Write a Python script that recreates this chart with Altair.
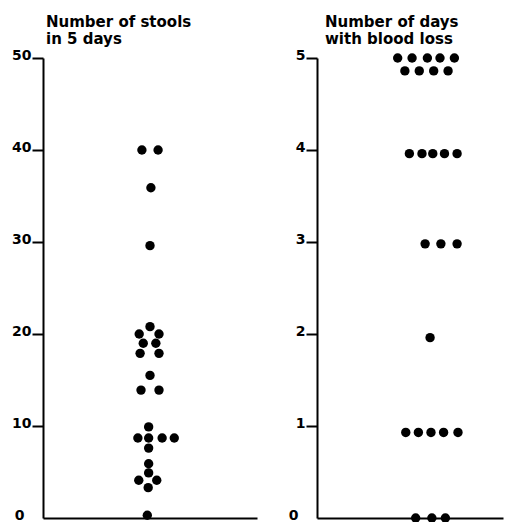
import altair as alt
import pandas as pd

# Left panel: number of stools in 5 days
stool_vals = [40, 40, 35.9, 29.6, 20.8, 20.0, 20.0, 19.0, 19.0, 17.9, 17.9, 15.5,
              13.9, 13.9, 9.9, 8.7, 8.7, 8.7, 8.7, 7.6, 5.9, 4.9, 4.1, 4.1, 3.3, 0.3]
stool_pos = [-0.9, 0.9, 0.1, 0, 0, -1.2, 1.0, -0.75, 0.65, -1.1, 1.0, 0,
             -1.0, 1.0, -0.15, -1.35, -0.15, 1.35, 2.7, -0.15, -0.15, -0.15, -1.25, 0.75, -0.2, -0.3]
stool_ticks = [0, 10, 20, 30, 40, 50]

# Right panel: number of days with blood loss
blood_vals = [5, 5, 5, 5, 5, 4.86, 4.86, 4.86, 4.86, 3.96, 3.96, 3.96, 3.96, 3.96,
              2.98, 2.98, 2.98, 1.96, 0.93, 0.93, 0.93, 0.93, 0.93, 0, 0, 0]
blood_pos = [-3.6, -2.0, -0.3, 1.1, 2.7, -2.8, -1.2, 0.4, 2.0, -2.3, -0.9, 0.3, 1.6, 3.0,
             -0.55, 1.2, 3.0, 0, -2.7, -1.3, 0.1, 1.5, 3.1, -1.6, 0.2, 1.7]
blood_ticks = [0, 1, 2, 3, 4, 5]

titles_left = ["Number of stools", "in 5 days"]
titles_right = ["Number of days", "with blood loss"]

FONT = "DejaVu Sans"


def panel(df, title, ydom, yticks, xdom, width, dx):
    zero_test = "datum.value === 0"
    return alt.Chart(df).mark_circle(size=88, color="black", opacity=1).encode(
        x=alt.X("pos:Q", scale=alt.Scale(domain=xdom, nice=False, zero=False),
                axis=alt.Axis(labels=False, ticks=False, title=None, grid=False,
                              domainColor="black", domainWidth=2)),
        y=alt.Y("value:Q", scale=alt.Scale(domain=ydom, nice=False),
                axis=alt.Axis(values=yticks, title=None, grid=False, format="d",
                              domainColor="black", domainWidth=2,
                              tickColor="black", tickWidth=2, tickSize=11,
                              tickOpacity={"condition": {"test": zero_test, "value": 0}, "value": 1},
                              labelPadding={"condition": {"test": zero_test, "value": 8}, "value": 1},
                              labelFont=FONT, labelFontSize=14, labelFontWeight="bold",
                              labelColor="black", labelBaseline="middle", labelOffset=-3)),
    ).properties(
        width=width, height=460,
        title=alt.TitleParams(title, anchor="start", frame="group", dx=dx, fontSize=15,
                              font=FONT, fontWeight="bold", lineHeight=17, offset=1,
                              color="black"),
    )


left = panel(pd.DataFrame({"pos": stool_pos, "value": stool_vals}), titles_left,
             [0, 50], stool_ticks, [-11.9, 11.9], 214, 3)
right = panel(pd.DataFrame({"pos": blood_pos, "value": blood_vals}), titles_right,
              [0, 5], blood_ticks, [-12.56, 8.1], 186, 8)

chart = alt.hconcat(left, right, spacing=31).configure_view(stroke=None).properties(
    padding={"left": 3, "top": 7, "right": 5, "bottom": 5}, background="white")

chart.save("out.html", embed_options={"renderer": "svg", "actions": False})
